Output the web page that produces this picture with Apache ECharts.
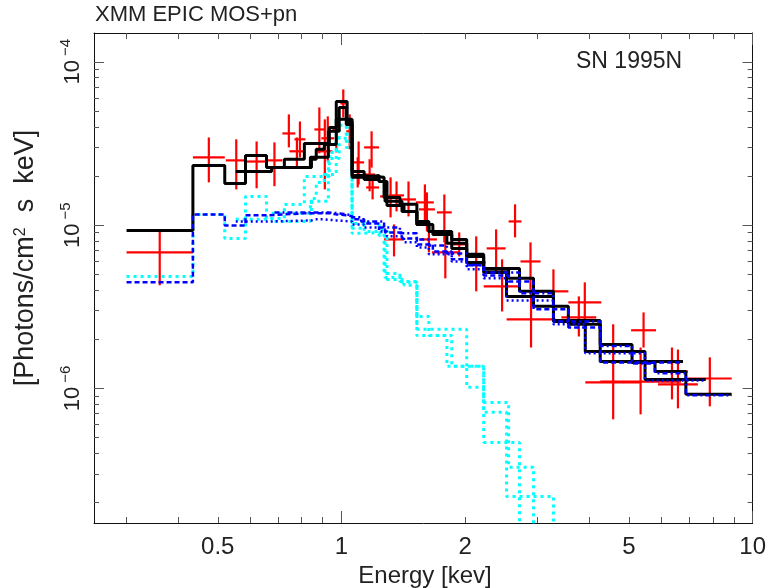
<!DOCTYPE html>
<html>
<head>
<meta charset="utf-8">
<title>SN 1995N</title>
<script src="https://cdn.jsdelivr.net/npm/echarts@6.0.0/dist/echarts.min.js"></script>
<style>
  html, body { margin: 0; padding: 0; background: #fff; }
  #chart { width: 769px; height: 588px; }
</style>
</head>
<body>
<div id="chart"></div>
<script>
// axis ranges and tick labels
var xMin = 0.25, xMax = 10;
var yMin = 1.5e-7, yMax = 1.5e-4;
var xMajorTicks = [1, 10];
var xMinorTicks = [0.3, 0.4, 0.5, 0.6, 0.7, 0.8, 0.9, 2, 3, 4, 5, 6, 7, 8, 9];
var xLabels = [0.5, 1, 2, 5, 10];
var yMajorTicks = [1e-6, 1e-5, 1e-4];
var yMinorTicks = [2e-7, 3e-7, 4e-7, 5e-7, 6e-7, 7e-7, 8e-7, 9e-7,
                   2e-6, 3e-6, 4e-6, 5e-6, 6e-6, 7e-6, 8e-6, 9e-6,
                   2e-5, 3e-5, 4e-5, 5e-5, 6e-5, 7e-5, 8e-5, 9e-5];

// folded model, pn (bin edges in keV, values in photons/cm2/s/keV)
var pnEdges = [0.30, 0.435, 0.52, 0.584, 0.657, 0.726, 0.812, 0.934, 0.971, 1.032, 1.061, 1.135, 1.234,
               1.276, 1.403, 1.525, 1.668, 1.854, 2.016, 2.217, 2.549, 2.931, 3.562, 4.258, 6.77];
var pnTotal = [9.28e-6, 2.32e-5, 1.80e-5, 2.67e-5, 2.25e-5, 2.53e-5, 3.16e-5, 3.96e-5, 5.72e-5, 4.31e-5,
               2.13e-5, 1.905e-5, 1.85e-5, 1.40e-5, 1.213e-5, 1.01e-5, 8.77e-6, 7.20e-6, 6.62e-6, 5.36e-6,
               4.72e-6, 3.18e-6, 2.47e-6, 1.46e-6];
var pnPower = [4.46e-6, 1.163e-5, 9.96e-6, 1.147e-5, 1.163e-5, 1.18e-5, 1.18e-5, 1.163e-5, 1.147e-5, 1.131e-5,
               1.084e-5, 1.024e-5, 9.68e-6, 9.02e-6, 8.29e-6, 7.62e-6, 6.90e-6, 6.17e-6, 5.67e-6, 4.92e-6,
               4.52e-6, 3.05e-6, 2.36e-6, 1.44e-6];
var pnThermal = [4.85e-6, 1.163e-5, 8.29e-6, 1.498e-5, 1.099e-5, 1.339e-5, 1.987e-5, 2.786e-5, 4.44e-5, 3.12e-5,
                 1.024e-5, 9.15e-6, 8.65e-6, 4.78e-6, 4.46e-6, 2.30e-6, 2.30e-6, 2.30e-6, 1.365e-6, 8.21e-7,
                 3.29e-7, 8.98e-8];

// folded model, MOS1
var mos1Edges = [0.553, 0.676, 0.845, 0.868, 0.908, 0.971, 1.061, 1.135, 1.234, 1.290, 1.419, 1.525, 1.631,
                 1.854, 2.016, 2.217, 2.520, 3.277, 3.916, 5.473, 7.69];
var mos1Total = [2.13e-5, 2.25e-5, 2.53e-5, 2.91e-5, 3.12e-5, 4.44e-5, 1.96e-5, 2.01e-5, 1.85e-5, 1.32e-5,
                 1.213e-5, 1.01e-5, 9.15e-6, 8.17e-6, 6.43e-6, 5.13e-6, 3.66e-6, 2.57e-6, 1.685e-6, 1.136e-6];
var mos1Power = [1.053e-5, 1.068e-5, 1.084e-5, 1.084e-5, 1.068e-5, 1.053e-5, 1.01e-5, 9.68e-6, 9.15e-6, 8.53e-6,
                 7.84e-6, 7.30e-6, 6.62e-6, 5.99e-6, 5.36e-6, 4.72e-6, 3.46e-6, 2.47e-6, 1.64e-6, 1.12e-6];
var mos1Thermal = [1.084e-5, 1.18e-5, 1.457e-5, 1.826e-5, 2.04e-5, 3.40e-5, 9.55e-6, 1.039e-5, 9.41e-6, 4.65e-6,
                   4.28e-6, 2.76e-6, 2.11e-6, 1.365e-6, 1.365e-6, 7.14e-7, 2.18e-7, 7.80e-8];

// folded model, MOS2
var mos2Edges = [0.687, 0.840, 0.929, 0.987, 1.027, 1.061, 1.116, 1.269, 1.387, 1.525, 1.631, 1.804, 2.016,
                 2.217, 2.710, 3.277, 4.258, 5.089, 5.787, 6.88, 8.89];
var mos2Total = [2.25e-5, 2.60e-5, 3.75e-5, 5.25e-5, 4.13e-5, 2.01e-5, 1.96e-5, 1.477e-5, 1.34e-5, 1.053e-5,
                 9.15e-6, 7.73e-6, 5.91e-6, 5.43e-6, 3.93e-6, 2.61e-6, 1.86e-6, 1.44e-6, 1.27e-6, 9.20e-7];
var mos2Power = [1.196e-5, 1.196e-5, 1.18e-5, 1.163e-5, 1.147e-5, 1.115e-5, 1.053e-5, 9.68e-6, 8.90e-6, 8.17e-6,
                 7.51e-6, 6.71e-6, 5.70e-6, 5.13e-6, 3.82e-6, 2.57e-6, 1.82e-6, 1.42e-6, 1.24e-6, 9.07e-7];
var mos2Thermal = [1.053e-5, 1.40e-5, 2.56e-5, 4.08e-5, 2.99e-5, 8.90e-6, 9.02e-6, 5.06e-6, 4.52e-6, 2.11e-6,
                   2.11e-6, 1.365e-6, 1.015e-6, 4.67e-7, 1.19e-7];

// measured spectrum: energy bin, flux, flux error range
var dataElo = [0.30, 0.435, 0.523, 0.588, 0.657, 0.718, 0.768, 0.747, 0.859, 0.873,
               0.950, 0.993, 1.027, 1.067, 1.135, 1.135, 1.148, 1.241, 1.269, 1.396,
               1.517, 1.543, 1.560, 1.706, 1.659, 1.854, 2.016, 2.254, 2.217, 2.549,
               2.725, 2.521, 3.014, 3.426, 3.562, 3.917, 5.062, 4.259, 5.821, 5.886, 6.959,
               0.893, 1.056, 1.305];
var dataEhi = [0.435, 0.52, 0.588, 0.657, 0.718, 0.772, 0.817, 0.812, 0.908, 0.950,
               0.993, 1.027, 1.067, 1.135, 1.207, 1.234, 1.234, 1.396, 1.419, 1.517,
               1.677, 1.687, 1.706, 1.854, 1.928, 2.016, 2.242, 2.507, 2.725, 2.740,
               3.048, 3.314, 3.562, 4.165, 4.283, 5.352, 5.821, 6.693, 6.959, 7.358, 8.894,
               0.960, 1.135, 1.419];
var dataFlux = [6.81e-6, 2.60e-5, 2.49e-5, 2.45e-5, 2.49e-5, 3.64e-5, 3.35e-5, 2.83e-5, 3.85e-5, 2.83e-5,
                3.85e-5, 5.56e-5, 3.75e-5, 2.42e-5, 2.04e-5, 2.99e-5, 1.70e-5, 1.498e-5, 8.17e-6, 1.436e-5,
                1.377e-5, 1.248e-5, 8.17e-6, 1.196e-5, 6.81e-6, 7.62e-6, 5.91e-6, 7.20e-6, 4.21e-6, 1.053e-5,
                5.99e-6, 2.65e-6, 3.93e-6, 2.72e-6, 3.36e-6, 1.089e-6, 2.27e-6, 1.10e-6, 1.27e-6, 1.06e-6, 1.15e-6,
                3.40e-5, 2.13e-5, 1.52e-5];
var dataLo = [4.28e-6, 1.826e-5, 1.654e-5, 1.68e-5, 1.73e-5, 2.99e-5, 2.60e-5, 2.25e-5, 2.75e-5, 1.654e-5,
              2.786e-5, 4.56e-5, 2.91e-5, 1.774e-5, 1.61e-5, 2.25e-5, 1.436e-5, 1.115e-5, 6.43e-6, 1.13e-5,
              1.01e-5, 9.15e-6, 6.81e-6, 7.84e-6, 4.72e-6, 6.43e-6, 3.93e-6, 5.13e-6, 2.96e-6, 8.41e-6,
              4.04e-6, 1.78e-6, 3.18e-6, 2.08e-6, 2.40e-6, 6.47e-7, 1.78e-6, 6.94e-7, 8.57e-7, 7.55e-7, 7.77e-7,
              2.455e-5, 1.70e-5, 1.213e-5];
var dataHi = [9.15e-6, 3.44e-5, 3.35e-5, 3.25e-5, 3.21e-5, 4.76e-5, 4.31e-5, 3.44e-5, 5.25e-5, 4.44e-5,
              5.11e-5, 6.77e-5, 4.76e-5, 3.25e-5, 2.53e-5, 3.75e-5, 2.04e-5, 1.96e-5, 1.01e-5, 1.85e-5,
              1.774e-5, 1.585e-5, 9.82e-6, 1.54e-5, 9.15e-6, 9.02e-6, 8.53e-6, 9.41e-6, 6.17e-6, 1.34e-5,
              7.84e-6, 4.04e-6, 5.36e-6, 3.66e-6, 4.46e-6, 2.47e-6, 2.92e-6, 1.78e-6, 1.78e-6, 1.73e-6, 1.55e-6,
              4.63e-5, 2.60e-5, 1.85e-5];

var FONT = '"Liberation Sans", Arial, sans-serif';
var myChart = echarts.init(document.getElementById('chart'));

// histogram -> step polyline
function steps(edges, vals) {
    var pts = [];
    for (var i = 0; i < vals.length; i++) {
        pts.push([edges[i], vals[i]], [edges[i + 1], vals[i]]);
    }
    return pts;
}

function stepSeries(edges, vals, color, dash, width, z) {
    return {
        type: 'line',
        data: steps(edges, vals),
        symbol: 'none',
        silent: true,
        clip: true,
        z: z,
        lineStyle: { color: color, width: width, type: dash }
    };
}

// value axes in log10 space, only used to draw ticks/labels/frame
function tickAxis(dim, pos, ticks, len, withLine, label) {
    var lo = dim === 'x' ? xMin : yMin;
    var hi = dim === 'x' ? xMax : yMax;
    return {
        type: 'value',
        position: pos,
        min: Math.log10(lo),
        max: Math.log10(hi),
        silent: true,
        axisLine: { show: withLine, onZero: false, lineStyle: { color: '#111', width: 1 } },
        axisTick: {
            show: true, inside: true, length: len,
            customValues: ticks.map(Math.log10),
            lineStyle: { color: '#555', width: 1 }
        },
        axisLabel: label || { show: false },
        splitLine: { show: false }
    };
}

var xLabel = {
    show: true,
    customValues: xLabels.map(Math.log10),
    margin: 12,
    color: '#222',
    fontSize: 24,
    fontFamily: FONT,
    showMinLabel: true,
    showMaxLabel: true,
    formatter: function (v) { return String(+Math.pow(10, v).toPrecision(2)); }
};

var yLabel = {
    show: true,
    customValues: yMajorTicks.map(Math.log10),
    rotate: 90,
    margin: 10,
    color: '#222',
    showMinLabel: true,
    showMaxLabel: true,
    formatter: function (v) { return '{b|10}{s|\u2212' + Math.round(-v) + '}'; },
    rich: {
        b: { fontSize: 22, fontFamily: FONT, color: '#222', lineHeight: 26, verticalAlign: 'bottom' },
        s: { fontSize: 15, fontFamily: FONT, color: '#222', verticalAlign: 'top', padding: [0, 0, 0, 4] }
    }
};

var errorBars = dataElo.map(function (e, i) {
    return [e, dataEhi[i], dataFlux[i], dataLo[i], dataHi[i]];
});

var option = {
    animation: false,
    backgroundColor: '#fff',
    grid: { left: 94, right: 14, top: 33, bottom: 65 },
    xAxis: [
        { type: 'log', logBase: 10, min: xMin, max: xMax, show: false },
        tickAxis('x', 'bottom', xMinorTicks, 6, true, xLabel),
        tickAxis('x', 'bottom', xMajorTicks, 12, false),
        tickAxis('x', 'top', xMinorTicks, 6, true),
        tickAxis('x', 'top', xMajorTicks, 12, false)
    ],
    yAxis: [
        { type: 'log', logBase: 10, min: yMin, max: yMax, show: false },
        tickAxis('y', 'left', yMinorTicks, 5, true, yLabel),
        tickAxis('y', 'left', yMajorTicks, 10, false),
        tickAxis('y', 'right', yMinorTicks, 5, true),
        tickAxis('y', 'right', yMajorTicks, 10, false)
    ],
    graphic: [
        { type: 'text', x: 95, y: 4, style: { text: 'XMM EPIC MOS+pn', fontSize: 22, fontFamily: FONT, fill: '#222' } },
        { type: 'text', x: 576, y: 50, style: { text: 'SN 1995N', fontSize: 23, fontFamily: FONT, fill: '#222' } },
        { type: 'text', x: 425, y: 576, style: { text: 'Energy [kev]', fontSize: 24, fontFamily: FONT, fill: '#222',
            align: 'center', verticalAlign: 'middle' } },
        { type: 'text', x: 26, y: 258, rotation: Math.PI / 2,
          style: { text: '[Photons/cm{s|2}  s  keV]', fontSize: 27, fontFamily: FONT, fill: '#222',
                   align: 'center', verticalAlign: 'middle',
                   rich: { s: { fontSize: 16, fontFamily: FONT, fill: '#222', verticalAlign: 'top' } } } }
    ],
    series: [
        {
            type: 'custom',
            name: 'data',
            data: errorBars,
            encode: { x: [0, 1], y: [2, 3, 4] },
            clip: true,
            silent: true,
            z: 1,
            renderItem: function (params, api) {
                var a = api.coord([api.value(0), api.value(2)]);
                var b = api.coord([api.value(1), api.value(2)]);
                var top = api.coord([api.value(0), api.value(4)]);
                var bot = api.coord([api.value(0), api.value(3)]);
                var xm = (a[0] + b[0]) / 2;
                var st = { stroke: '#ff0000', lineWidth: 2.2 };
                return {
                    type: 'group',
                    children: [
                        { type: 'line', shape: { x1: a[0], y1: a[1], x2: b[0], y2: b[1] }, style: st },
                        { type: 'line', shape: { x1: xm, y1: top[1], x2: xm, y2: bot[1] }, style: st }
                    ]
                };
            }
        },
        stepSeries(pnEdges, pnThermal, '#00ffff', [3, 4], 3, 2),
        stepSeries(mos1Edges, mos1Thermal, '#00ffff', [3, 4], 3, 2),
        stepSeries(mos2Edges, mos2Thermal, '#00ffff', [3, 4], 3, 2),
        stepSeries(pnEdges, pnTotal, '#000000', 'solid', 3, 3),
        stepSeries(mos1Edges, mos1Total, '#000000', 'solid', 3, 3),
        stepSeries(mos2Edges, mos2Total, '#000000', 'solid', 3, 3),
        stepSeries(pnEdges, pnPower, '#0000ff', [5, 3], 2.5, 4),
        stepSeries(mos1Edges, mos1Power, '#0000ff', [2, 3], 2.5, 4),
        stepSeries(mos2Edges, mos2Power, '#0000ff', [5, 3, 2, 3], 2.5, 4)
    ]
};

myChart.setOption(option);
</script>
</body>
</html>
